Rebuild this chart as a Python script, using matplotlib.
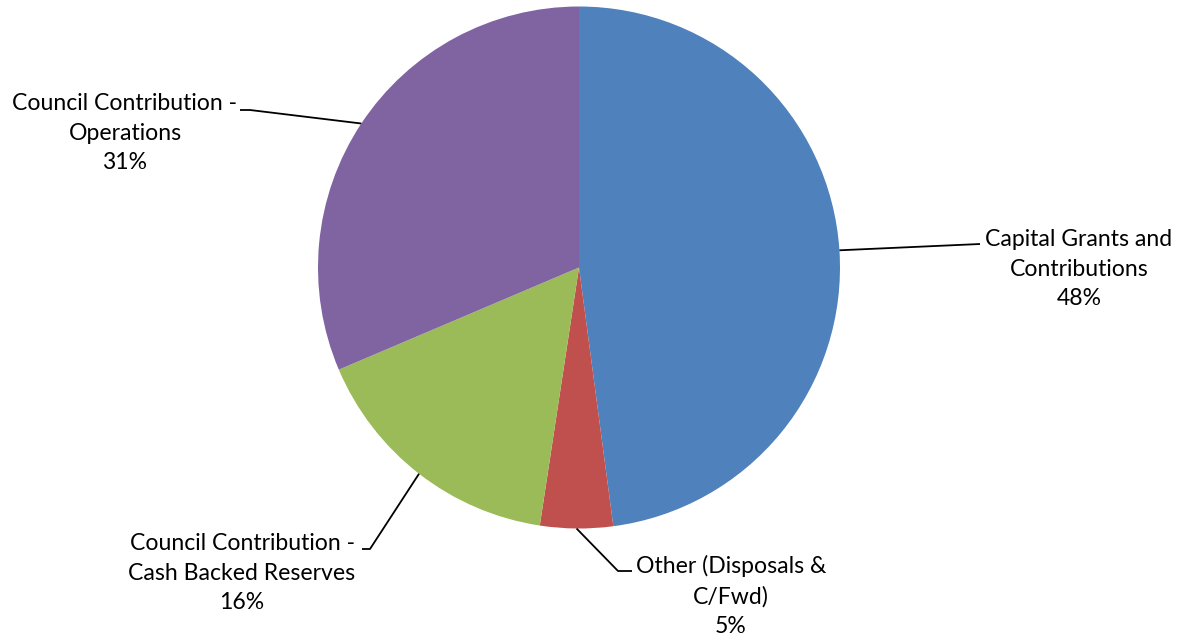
import matplotlib
matplotlib.use("Agg")
import matplotlib.pyplot as plt
import numpy as np
import math

# ---- data ----
categories = ["Capital Grants and\nContributions",
              "Other (Disposals &\nC/Fwd)",
              "Council Contribution -\nCash Backed Reserves",
              "Council Contribution -\nOperations"]
values = [47.9, 4.5, 16.2, 31.4]
colors = ["#4F81BD", "#C0504D", "#9BBB59", "#8064A2"]

# ---- layout (pixels) ----
W, H, DPI = 1188, 637, 100
CX, CY, R = 579, 267.5, 261
# text block centre (px) and elbow points (px)
label_pos = [(1079, 269), (731, 596), (242, 573), (125, 133)]
elbows = [[(980, 244)], [(618, 571), (632, 571)],
          [(370, 549), (362, 549)], [(250, 110), (240, 110)]]
fs = 16.6

plt.rcParams['font.family'] = ['Lato', 'DejaVu Sans']
fig = plt.figure(figsize=(W / DPI, H / DPI), dpi=DPI)
ax = fig.add_axes([(CX - R) / W, (H - CY - R) / H, 2 * R / W, 2 * R / H])
wedges, _ = ax.pie(values, colors=colors, startangle=90, counterclock=False,
                   radius=1.0, wedgeprops=dict(linewidth=0))
ax.set_xlim(-1, 1)
ax.set_ylim(-1, 1)
ax.set_aspect('equal')
ax.axis('off')

def px2d(p):
    return ((p[0] - CX) / R, (CY - p[1]) / R)

total = sum(values)
for w, cat, v, lp, el in zip(wedges, categories, values, label_pos, elbows):
    mid = math.radians((w.theta1 + w.theta2) / 2)
    start = (math.cos(mid), math.sin(mid))
    pts = [start] + [px2d(e) for e in el]
    xs, ys = zip(*pts)
    ax.plot(xs, ys, color='black', lw=1.3, clip_on=False, solid_capstyle='butt')
    pct = int(math.floor(v / total * 100 + 0.5))
    tx, ty = px2d(lp)
    ax.text(tx, ty, f"{cat}\n{pct}%", ha='center', va='center',
            fontsize=fs, linespacing=1.5, color='black', clip_on=False)

fig.savefig("out.png", dpi=DPI)
